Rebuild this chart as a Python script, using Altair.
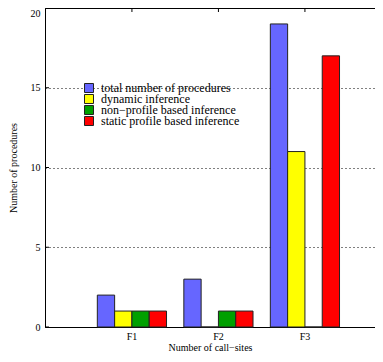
import altair as alt
import pandas as pd

categories = ["F1", "F2", "F3"]
series_names = [
    "total number of procedures",
    "dynamic inference",
    "non\u2212profile based inference",
    "static profile based inference",
]
total = [2, 3, 19]
dynamic = [1, 0, 11]
nonprofile = [1, 1, 0]
static = [1, 1, 17]
colors = ["#6666ff", "#ffff00", "#00a000", "#ff0000"]
y_ticks = [0, 5, 10, 15, 20]

rows = []
for s, vals in zip(series_names, [total, dynamic, nonprofile, static]):
    for c, v in zip(categories, vals):
        rows.append({"cat": c, "series": s, "value": v})
df = pd.DataFrame(rows)
df_cat = pd.DataFrame({"cat": categories})
df_yt = pd.DataFrame({"value": y_ticks})

FONT = "Liberation Serif"

xscale = alt.Scale(domain=categories, paddingInner=0.2, paddingOuter=0.5075, align=0.596)
yscale = alt.Scale(domain=[0, 20])

bars = alt.Chart(df).mark_bar(stroke="#222222", strokeWidth=1).encode(
    x=alt.X(
        "cat:N",
        scale=xscale,
        sort=categories,
        axis=alt.Axis(
            orient="bottom", title="Number of call\u2212sites", labelAngle=0,
            ticks=False, domain=True, domainColor="black", domainWidth=1,
            labelFont=FONT, labelFontSize=10, labelColor="black", labelPadding=4,
            titleFont=FONT, titleFontSize=10, titleFontWeight="normal",
            titleColor="black", titlePadding=1,
        ),
    ),
    xOffset=alt.XOffset("series:N", sort=series_names, scale=alt.Scale(domain=series_names)),
    y=alt.Y(
        "value:Q",
        scale=yscale,
        axis=alt.Axis(
            values=y_ticks, title="Number of procedures", ticks=False,
            domain=True, domainColor="black", domainWidth=1,
            grid=True, gridColor="black", gridDash=[1, 3], gridWidth=1, gridOpacity=1,
            labelFont=FONT, labelFontSize=10, labelColor="black", labelPadding=5,
            labelBaseline={"condition": {"test": "datum.value == 20", "value": "top"}, "value": "middle"},
            titleFont=FONT, titleFontSize=10, titleFontWeight="normal",
            titleColor="black", titlePadding=12,
        ),
    ),
    color=alt.Color(
        "series:N",
        sort=series_names,
        scale=alt.Scale(domain=series_names, range=colors),
        legend=alt.Legend(
            orient="none", legendX=38, legendY=75, title=None,
            symbolType="square", symbolSize=81, symbolStrokeColor="#222222",
            symbolStrokeWidth=1, symbolOpacity=1,
            labelFont=FONT, labelFontSize=12, labelColor="black", labelOffset=6,
            rowPadding=-2.4, clipHeight=10, padding=0, offset=0,
        ),
    ),
)

top_ticks = alt.Chart(df_cat).mark_rule(color="black", strokeWidth=1).encode(
    x=alt.X(
        "cat:N", scale=xscale, sort=categories,
        axis=alt.Axis(orient="top", labels=False, ticks=False, domain=True,
                      domainColor="black", domainWidth=1, title=None),
    ),
    y=alt.value(0),
    y2=alt.value(4),
)

left_ticks = alt.Chart(df_yt).mark_rule(color="black", strokeWidth=1).encode(
    y=alt.Y("value:Q", scale=yscale),
    x=alt.value(0),
    x2=alt.value(4),
)

chart = alt.layer(bars, top_ticks, left_ticks).resolve_axis(x="independent").properties(
    width=330,
    height=319,
    autosize=alt.AutoSizeParams(type="none"),
    padding={"left": 37, "top": 0, "right": 0, "bottom": 27},
).configure_view(stroke="transparent")

chart.save("out.html", embed_options={"renderer": "svg", "actions": False})
